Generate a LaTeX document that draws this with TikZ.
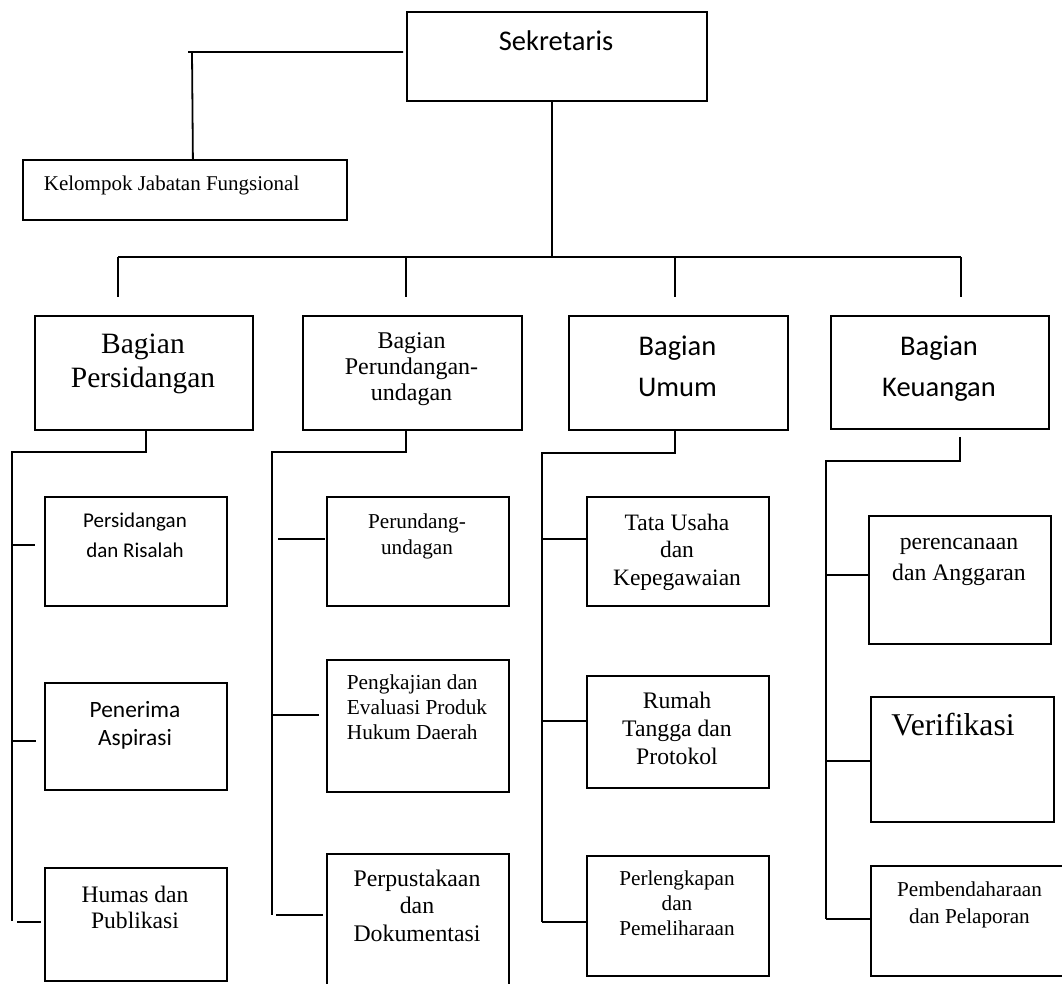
\documentclass[tikz,border=0pt]{standalone}
\usepackage{fontspec}
\setmainfont{Liberation Serif}
\setsansfont{Carlito}
\begin{document}
\begin{tikzpicture}[x=1pt, y=-1pt, line width=1.8pt,
    orgbox/.style={draw, inner sep=0pt, anchor=north west},
    txt/.style={inner sep=0pt, align=center, anchor=north}]
    \useasboundingbox (0,0) rectangle (1062,983);

    % Boxes: name/left/top/right/bottom
    \foreach \name/\xa/\ya/\xb/\yb in {sek/406/11/706/100, kel/22/159/346/219,
        pers/34/315/252/429, perd/302/315/521/429, umum/568/315/787/429, keu/830/315/1048/428,
        ps1/44/496/226/605, ps2/44/682/226/789, ps3/44/867/226/980,
        pd1/326/496/508/605, pd2/326/659/508/791, pd3/326/853/508/1000,
        um1/586/496/768/605, um2/586/675/768/787, um3/586/855/768/975,
        ku1/868/515/1050/643, ku2/870/696/1053/821, ku3/870/865/1080/975} {
        \node[orgbox, minimum width={(\xb-\xa)*1pt}, minimum height={(\yb-\ya)*1pt}] (\name) at (\xa,\ya) {};
    }

    % Texts
    \node[txt, anchor=base, font=\sffamily\fontsize{28.5}{34}\selectfont] (sekT) at (556,50) {Sekretaris};
    \node[txt, anchor=base west, font=\fontsize{21}{25}\selectfont] (kelT) at (43,190) {Kelompok Jabatan Fungsional};
    \node[txt, font=\fontsize{29.5}{34}\selectfont] (persT) at (143,333) {Bagian\\Persidangan};
    \node[txt, font=\fontsize{24}{26}\selectfont] (perdT) at (411.5,331.6) {Bagian\\Perundangan-\\undagan};
    \node[txt, font=\sffamily\fontsize{28.5}{41}\selectfont] (umumT) at (677.5,334.5) {Bagian\\Umum};
    \node[txt, font=\sffamily\fontsize{28.5}{41}\selectfont] (keuT) at (939,334.5) {Bagian\\Keuangan};

    \node[txt, font=\sffamily\fontsize{21}{30}\selectfont] (ps1T) at (135,512.5) {Persidangan\\dan Risalah};
    \node[txt, font=\sffamily\fontsize{23.4}{28}\selectfont] (ps2T) at (135,700) {Penerima\\Aspirasi};
    \node[txt, font=\fontsize{23.6}{26}\selectfont] (ps3T) at (135,885) {Humas dan\\Publikasi};

    \node[txt, font=\fontsize{21.2}{26}\selectfont] (pd1T) at (417,512.5) {Perundang-\\undagan};
    \node[txt, anchor=north west, align=left, font=\fontsize{21.3}{25}\selectfont] (pd2T) at (346,674) {Pengkajian dan\\Evaluasi Produk\\Hukum Daerah};
    \node[txt, font=\fontsize{23.8}{27.5}\selectfont] (pd3T) at (417,868.7) {Perpustakaan\\dan\\Dokumentasi};

    \node[txt, font=\fontsize{23.5}{27.5}\selectfont] (um1T) at (677,513) {Tata Usaha\\dan\\Kepegawaian};
    \node[txt, font=\fontsize{23.7}{28}\selectfont] (um2T) at (677,690.8) {Rumah\\Tangga dan\\Protokol};
    \node[txt, font=\fontsize{21.2}{25}\selectfont] (um3T) at (677,869.5) {Perlengkapan\\dan\\Pemeliharaan};

    \node[txt, font=\fontsize{23.7}{31}\selectfont] (ku1T) at (959,537) {perencanaan\\dan Anggaran};
    \node[txt, anchor=base, font=\fontsize{31.7}{36}\selectfont] (ku2T) at (953,735) {Verifikasi};
    \node[txt, font=\fontsize{21.2}{27}\selectfont] (ku3T) at (969.5,880.5) {Pembendaharaan\\dan Pelaporan};

    % Sekretaris -- Kelompok
    \coordinate (kelKnee) at (192,52);
    \draw ([xshift=-3pt]sek.west |- kelKnee) -- ([xshift=-4pt]kelKnee) (kelKnee) -- ([xshift=8pt]kel.north);

    % Sekretaris -- bagian
    \coordinate (bus) at (552,257);
    \draw (sek.south -| bus) -- (bus);
    \coordinate (dropA) at (118,297);
    \coordinate (dropB) at (406,297);
    \coordinate (dropC) at (675,297);
    \coordinate (dropD) at (961,297);
    \draw (dropA |- bus) -- (dropD |- bus);
    \foreach \d in {dropA, dropB, dropC, dropD}
        \draw (\d |- bus) -- (\d);

    % Persidangan
    \coordinate (persKnee) at (146,452);
    \coordinate (persSpine) at (12,921);
    \draw (persKnee |- pers.south) -- (persKnee) -- (persSpine |- persKnee) -- (persSpine);
    \foreach \c/\y/\s/\g in {ps1/545/0/9, ps2/741/0/8, ps3/922/5/3}
        \draw[shorten <=\s pt, shorten >=\g pt] (persSpine |- 0,\y) -- (\c.west |- 0,\y);

    % Perundang-undangan
    \coordinate (perdKnee) at (406,452);
    \coordinate (perdSpine) at (272,915);
    \draw (perdKnee |- perd.south) -- (perdKnee) -- (perdSpine |- perdKnee) -- (perdSpine);
    \foreach \c/\y/\s/\g in {pd1/539/6/1, pd2/715/0/7, pd3/915/4/3}
        \draw[shorten <=\s pt, shorten >=\g pt] (perdSpine |- 0,\y) -- (\c.west |- 0,\y);

    % Umum
    \coordinate (umumKnee) at (675,453);
    \coordinate (umumSpine) at (542,922);
    \draw (umumKnee |- umum.south) -- (umumKnee) -- (umumSpine |- umumKnee) -- (umumSpine);
    \foreach \c/\y in {um1/539, um2/721, um3/922}
        \draw (umumSpine |- 0,\y) -- (\c.west |- 0,\y);

    % Keuangan
    \coordinate (keuKnee) at (960,461);
    \coordinate (keuSpine) at (826,919);
    \draw ([yshift=-7pt]keuKnee |- keu.south) -- (keuKnee) -- (keuSpine |- keuKnee) -- (keuSpine);
    \foreach \c/\y in {ku1/575, ku2/761, ku3/919}
        \draw (keuSpine |- 0,\y) -- (\c.west |- 0,\y);
\end{tikzpicture}
\end{document}
